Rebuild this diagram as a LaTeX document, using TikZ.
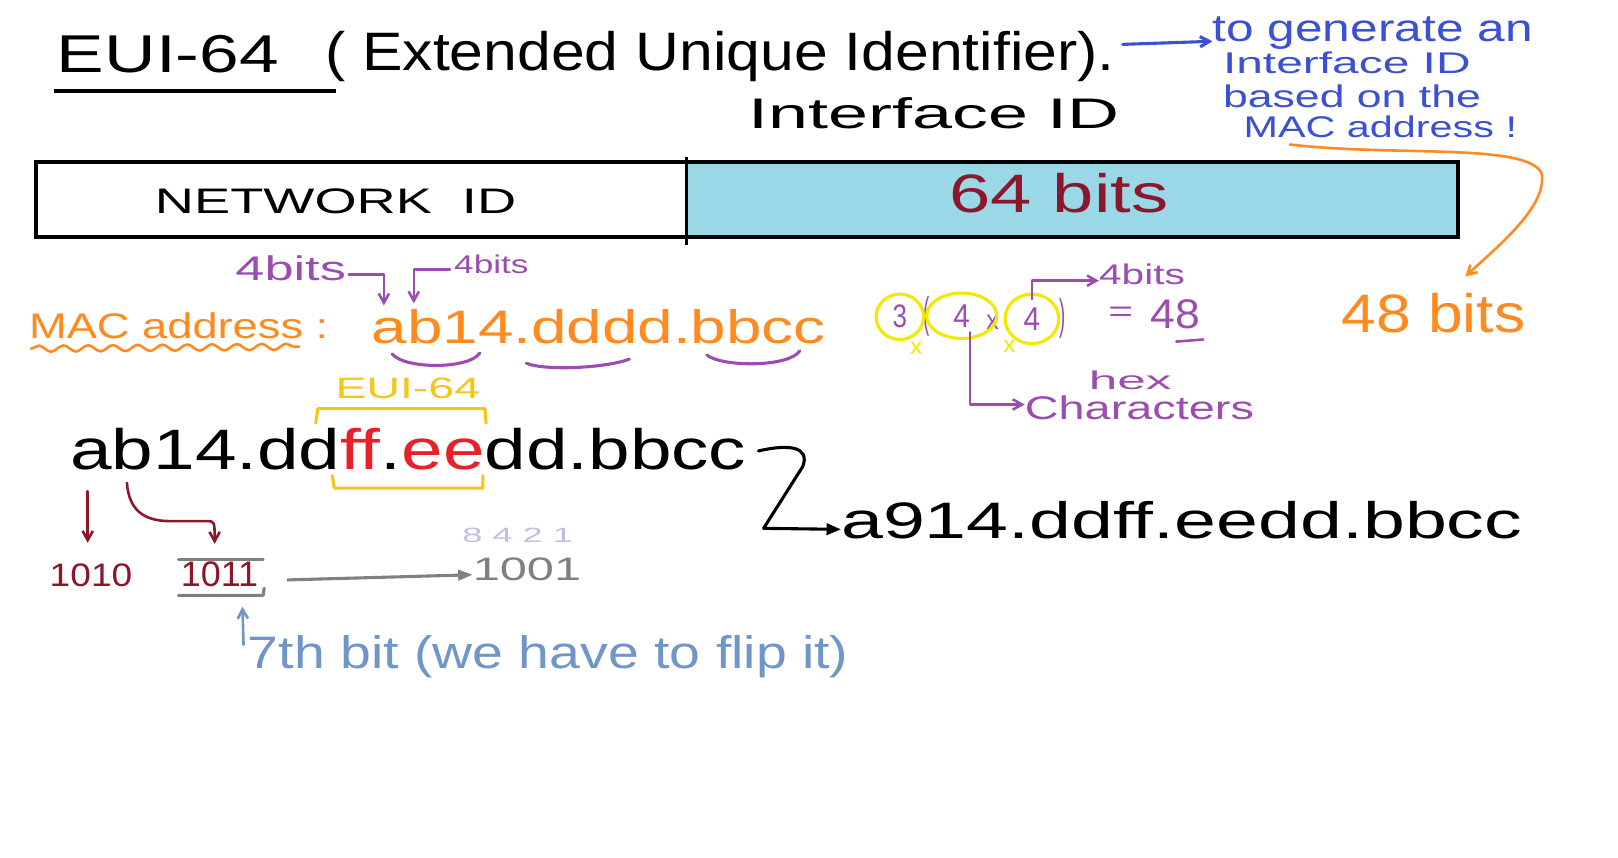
\documentclass[tikz,border=0pt]{standalone}
\usepackage{fontspec}
\setmainfont{Liberation Sans}
\usetikzlibrary{decorations.pathmorphing,arrows.meta}
\definecolor{royal}{RGB}{60,80,210}
\definecolor{orng}{RGB}{255,138,32}
\definecolor{purp}{RGB}{155,77,176}
\definecolor{dred}{RGB}{140,22,42}
\definecolor{gold}{RGB}{245,197,24}
\definecolor{yel}{RGB}{242,232,0}
\definecolor{hred}{RGB}{232,32,42}
\definecolor{steel}{RGB}{112,150,200}
\definecolor{lpurp}{RGB}{196,188,230}
\definecolor{lblue}{RGB}{154,216,232}
\definecolor{gry}{RGB}{128,128,128}
\newcommand{\hw}[3]{\resizebox{#1pt}{#2pt}{#3}}
\begin{document}
\begin{tikzpicture}[x=1pt,y=-1pt,
  txt/.style={inner sep=0pt, anchor=base west},
  ctr/.style={inner sep=0pt, anchor=center},
  barb/.style={-{Straight Barb[length=9pt,width=10pt]}},
  hand/.style={line width=2.5pt, line cap=round, line join=round}]
\useasboundingbox (0,0) rectangle (1568,831);
\fill[white] (0,0) rectangle (1568,831);

% title
\node[txt] (eui) at (55,70) {\hw{215}{36}{EUI-64}};
\node[txt] (ext) at (315,68) {\hw{765}{38}{( Extended Unique Identifier).}};
\draw[line width=4pt] (52,88) -- (326,88);
\node[txt] (ifidlbl) at (725,125) {\hw{360}{30}{Interface ID}};

% blue note
\node[txt, royal] (n1) at (1175,40) {\hw{310}{24}{to generate an}};
\node[txt, royal] (n2) at (1185,71) {\hw{240}{21}{Interface ID}};
\node[txt, royal] (n3) at (1185,104) {\hw{250}{22}{based on the}};
\node[txt, royal] (n4) at (1205,133) {\hw{265}{21}{MAC address !}};
\draw[royal, hand, line width=3pt, barb] (1088,43) -- (n1.west |- 0,40);

% address bar
\fill[lblue] (665,157) rectangle (1413,230);
\draw[line width=4pt] (35,157) rectangle (1413,230);
\draw[line width=2.5pt] (665,152) -- (665,237);
\node[txt] (netid) at (150,207) {\hw{350}{24}{NETWORK \ ID}};
\node[txt, dred] (bits64) at (920,206) {\hw{212}{38}{64 bits}};

% orange curve to 48 bits
\node[txt, orng] (bits48) at (1300,322) {\hw{178}{38}{48 bits}};
\draw[orng, hand, barb] (1250,140) .. controls (1350,152) and (1480,138) .. (1494,168)
   .. controls (1500,200) and (1450,240) .. (1420,268);

% MAC address row
\node[txt, purp] (fb1) at (228,272) {\hw{107}{24}{4bits}};
\node[txt, purp] (fb2) at (440,265) {\hw{72}{18}{4bits}};
\draw[purp, hand, barb] (338,266) -- (372,266) -- (372,296);
\draw[purp, hand, barb] (436,261) -- (401,261) -- (401,294);
\node[txt, orng] (maclbl) at (28,328) {\hw{290}{25}{MAC address :}};
\draw[orng, hand, decorate, decoration={snake, amplitude=3pt, segment length=24pt}] (30,338) -- (290,336);
\node[txt, orng] (mac) at (360,333) {\hw{440}{33}{ab14.dddd.bbcc}};
\draw[purp, hand, line width=3pt] (380,343) .. controls (392,358) and (455,358) .. (465,342);
\draw[purp, hand, line width=3pt] (510,352) .. controls (530,360) and (590,356) .. (610,348);
\draw[purp, hand, line width=3pt] (685,344) .. controls (700,356) and (765,356) .. (775,340);

\node[txt, gold] (euigold) at (325,386) {\hw{140}{20}{EUI-64}};
\draw[gold, hand, line width=3pt] (306,410) -- (308,396) -- (470,396) -- (471,410);

% 3(4x4) = 48
\node[ctr, purp] (c3) at (872,307) {\hw{14}{22}{3}};
\node[ctr, purp] (c4a) at (932,306) {\hw{16}{22}{4}};
\node[ctr, purp] (c4b) at (1000,309) {\hw{16}{22}{4}};
\node[ctr, purp] (lp) at (898,307) {\hw{6}{30}{(}};
\node[ctr, purp] (mx) at (962,312) {\hw{12}{14}{x}};
\node[ctr, purp] (rp) at (1030,309) {\hw{6}{30}{)}};
\draw[yel, line width=3pt] (c3) ellipse [x radius=23, y radius=22];
\draw[yel, line width=3pt] (c4a) ellipse [x radius=34, y radius=22];
\draw[yel, line width=3pt] (c4b) ellipse [x radius=26, y radius=24];
\node[ctr, yel] (x1) at (888,338) {\hw{12}{12}{x}};
\node[ctr, yel] (x2) at (978,336) {\hw{12}{12}{x}};
\node[ctr, purp] (eq) at (1086,305) {\hw{24}{14}{=}};
\node[txt, purp] (v48) at (1115,318) {\hw{48}{28}{48}};
\draw[purp, hand] (1140,331) -- (1166,329);
\node[txt, purp] (fb3) at (1065,276) {\hw{83}{20}{4bits}};
\draw[purp, hand, barb] (c4b.north |- 0,290) -- (1000,272) -- (fb3.west |- 0,272);
\node[txt, purp] (hex) at (1055,377) {\hw{80}{18}{hex}};
\node[txt, purp] (chars) at (993,407) {\hw{222}{23}{Characters}};
\draw[purp, hand, barb] (940,322) -- (940,392) -- (chars.west |- 0,392);

% EUI-64 derived address
\node[txt] (eui64) at (68,455) {\hw{655}{40}{ab14.dd\textcolor{hred}{ff}.\textcolor{hred}{ee}dd.bbcc}};
\draw[gold, hand, line width=3pt] (322,461) -- (324,473) -- (468,473) -- (468,461);
\node[txt] (result) at (815,522) {\hw{660}{36}{a914.ddff.eedd.bbcc}};
\draw[line width=3pt, line cap=round, line join=round, -{Triangle[length=14pt,width=11pt]}]
  (735,437) .. controls (765,430) and (785,433) .. (778,452) -- (740,512) -- (result.west |- 0,513);

% bits
\node[txt, dred] (b1010) at (48,568) {\hw{80}{22}{1010}};
\node[txt, dred] (b1011) at (175,568) {\hw{75}{24}{1011}};
\draw[dred, hand, barb] (85,476) -- (85,526);
\draw[dred, hand, barb] (123,468) .. controls (125,495) and (140,505) .. (165,505) -- (200,505)
  .. controls (208,505) .. (208,527);
\draw[gry, hand, line width=3pt] (173,542) -- (255,542);
\draw[gry, hand, line width=3pt] (173,577) -- (255,577) -- (256,570);
\node[txt, lpurp] (weights) at (448,526) {\hw{107}{14}{8 4 2 1}};
\node[txt, gry] (b1001) at (458,563) {\hw{105}{22}{1001}};
\draw[gry, line width=3pt, -{Triangle[length=14pt,width=10pt]}] (278,562) -- (b1001.west |- 0,557);

\node[txt, steel] (flip) at (240,648) {\hw{582}{32}{7th bit (we have to flip it)}};
\draw[steel, hand, barb] (236,625) -- (235,588);
\end{tikzpicture}
\end{document}
